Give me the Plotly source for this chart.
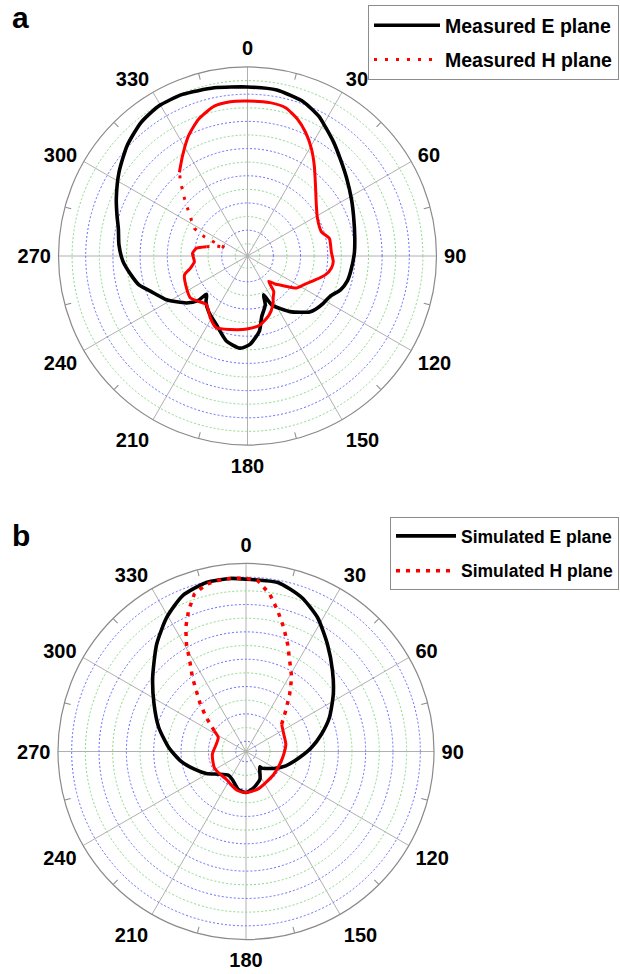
import plotly.graph_objects as go

# ---------------- data (angles in degrees, clockwise from top; r in ring units) ----------------
angle_ticks = [0, 30, 60, 90, 120, 150, 180, 210, 240, 270, 300, 330]
minor_angle_ticks = [15, 45, 75, 105, 135, 165, 195, 225, 255, 285, 315, 345]
ring_levels = list(range(0, 13))

theta_meas_E = [0, 10, 20, 27, 31, 37, 44, 52, 62, 70, 80, 88, 98, 104, 110, 116, 122, 128, 132, 137,
                142.6, 148, 153.7, 157.5, 160, 166.8, 171, 178.4, 184.6, 194, 204.5, 215, 222, 227, 228,
                232.4, 241.6, 249.9, 255.1, 260.8, 267.4, 275, 282, 287.4, 293.6, 303.1, 312.5, 321.4,
                329.4, 338.1, 348.8, 360]
r_meas_E = [11.53, 11.49, 11.16, 10.64, 10.20, 9.61, 8.95, 8.36, 7.78, 7.41, 7.11, 6.97, 6.78, 6.67, 6.38,
            5.86, 5.67, 5.46, 5.25, 4.76, 4.25, 3.66, 3.12, 2.19, 2.92, 3.68, 4.69, 5.60, 5.90, 5.54, 4.64,
            4.09, 3.66, 3.22, 4.01, 4.76, 5.86, 6.67, 7.36, 7.78, 8.26, 8.59, 8.81, 9.16, 9.63, 10.38,
            11.11, 11.66, 11.92, 11.91, 11.71, 11.53]

theta_meas_H = [0, 8.3, 14.4, 20.1, 25.2, 30.9, 36.5, 43.9, 53.6, 61.8, 71.9, 77.9, 87.1, 93.7, 98.3,
                103.6, 110, 116, 123, 131.7, 135, 140, 143.4, 147.6, 153.4, 160, 169.7, 180.6, 193.2,
                203.5, 211, 220.3, 227.3, 233.6, 242.2, 253.4, 257.9, 264, 272.8, 278.6, 282.7, 288.3,
                289.9, 292, 294, 297.4, 305.2, 312.3, 317.8, 320.9, 327.1, 333.9, 340.3, 347.5, 353.6, 360]
r_meas_H = [10.50, 10.50, 10.36, 9.81, 9.14, 8.27, 7.36, 6.31, 5.39, 4.94, 4.82, 5.26, 5.27, 5.42, 5.33,
            4.99, 4.32, 3.81, 3.42, 2.31, 2.04, 1.53, 2.34, 2.64, 3.22, 3.73, 4.25, 4.47, 4.65, 4.86, 4.41,
            3.78, 4.01, 4.31, 4.17, 3.93, 3.39, 3.03, 3.15, 2.90, 2.20, 1.52, 0.77, 1.57, 2.57, 3.50, 4.30,
            5.36, 6.43, 7.04, 7.89, 8.95, 9.78, 10.39, 10.52, 10.50]

theta_sim_E = [0.3, 10.7, 19.9, 28.1, 37.2, 47, 56.7, 67.8, 77.1, 86.5, 96.4, 109.8, 121.4, 136.4, 138,
               145, 153.3, 167.5, 180, 191.8, 206.6, 216.9, 230.7, 241, 251.1, 261.9, 273, 285.4, 297.2,
               308.4, 320.2, 329.4, 337.8, 346.8, 354.8, 360.3]
r_sim_E = [11.85, 11.83, 11.23, 10.36, 9.10, 7.90, 6.89, 5.84, 4.91, 4.05, 3.19, 2.34, 1.63, 0.93, 0.76,
           1.01, 1.52, 1.95, 2.25, 2.07, 1.52, 1.42, 1.87, 2.57, 3.24, 4.09, 4.91, 5.87, 6.81, 7.96, 9.46,
           10.64, 11.55, 11.95, 11.96, 11.85]

theta_sim_H = [0, 4, 8.6, 12.7, 16.9, 21.2, 25.7, 31.7, 37.3, 44.3, 52.6, 65.4, 79.6, 94.1, 110.6, 129.2,
               147.3, 162.5, 180, 191.4, 202, 215.6, 228.7, 243.2, 265.4, 283.8, 296.8, 303.1, 307.4,
               310.6, 316, 320.7, 324.1, 328.2, 331, 334.1, 337.8, 341.8, 346.7, 352.1, 356.1, 360]
r_sim_H = [11.91, 11.77, 10.89, 9.80, 8.73, 7.67, 6.62, 5.61, 4.52, 3.41, 2.53, 2.29, 2.21, 2.02, 1.89,
           1.88, 1.94, 2.14, 2.25, 2.18, 1.96, 1.74, 1.77, 1.85, 1.72, 1.49, 1.52, 2.02, 2.53, 3.08, 4.06,
           4.99, 5.93, 7.06, 8.23, 9.34, 10.37, 11.36, 11.83, 11.97, 11.96, 11.91]

# dotted (sparsely sampled) angular stretches of the H-plane curves
meas_H_dotted = (282.7, 320.9)
sim_H_dotted = (303.1, 52.6)   # wraps through 0

# ---------------- styling ----------------
W, H = 620, 974
BLUE = "#6a6aff"
GREEN = "#8ad88a"
GRID = "#b0b0b0"
OUTER = "#8a8a8a"
FONT = "Arial, 'Liberation Sans', sans-serif"

fig = go.Figure()


def split_wrap(theta, r, lo, hi):
    """Return (dotted, solid) segments for an angular interval [lo, hi] (may wrap through 0)."""
    n = len(theta)
    i_lo = theta.index(lo)
    i_hi = theta.index(hi)
    if lo < hi:
        dot_idx = list(range(i_lo, i_hi + 1))
        solid_idx = list(range(i_hi, n)) + list(range(1, i_lo + 1))
    else:
        dot_idx = list(range(i_lo, n)) + list(range(1, i_hi + 1))
        solid_idx = list(range(i_hi, i_lo + 1))
    d = ([theta[i] for i in dot_idx], [r[i] for i in dot_idx])
    s = ([theta[i] for i in solid_idx], [r[i] for i in solid_idx])
    return d, s


# empty traces so that the lower (grid) polar subplots get drawn
for sp in ("polar", "polar3"):
    fig.add_trace(go.Scatterpolar(theta=[], r=[], mode="lines", subplot=sp,
                                  showlegend=False, hoverinfo="skip"))

# panel a -----------------------------------------------------------
fig.add_trace(go.Scatterpolar(theta=theta_meas_E, r=r_meas_E, mode="lines", subplot="polar2",
                              line=dict(color="black", width=3.6, shape="spline", smoothing=0.6),
                              name="Measured E plane", legend="legend", legendgroup="a1"))
(dth, dr), (sth, sr) = split_wrap(theta_meas_H, r_meas_H, *meas_H_dotted)
fig.add_trace(go.Scatterpolar(theta=sth, r=sr, mode="lines", subplot="polar2",
                              line=dict(color="red", width=3, shape="spline", smoothing=0.6),
                              showlegend=False, legendgroup="a2"))
fig.add_trace(go.Scatterpolar(theta=dth, r=dr, mode="lines", subplot="polar2",
                              line=dict(color="red", width=3, dash="3px,8px"),
                              name="Measured H plane", legend="legend", legendgroup="a2"))

# panel b -----------------------------------------------------------
fig.add_trace(go.Scatterpolar(theta=theta_sim_E, r=r_sim_E, mode="lines", subplot="polar4",
                              line=dict(color="black", width=3.6, shape="spline", smoothing=0.6),
                              name="Simulated E plane", legend="legend2", legendgroup="b1"))
(dth, dr), (sth, sr) = split_wrap(theta_sim_H, r_sim_H, *sim_H_dotted)
fig.add_trace(go.Scatterpolar(theta=sth, r=sr, mode="lines", subplot="polar4",
                              line=dict(color="red", width=3, shape="spline", smoothing=0.6),
                              showlegend=False, legendgroup="b2"))
fig.add_trace(go.Scatterpolar(theta=dth, r=dr, mode="lines", subplot="polar4",
                              line=dict(color="red", width=3.5, dash="4px,6px"),
                              name="Simulated H plane", legend="legend2", legendgroup="b2"))


def base_polar(dom_x, dom_y, rrange, rings):
    return dict(
        domain=dict(x=dom_x, y=dom_y), bgcolor="white",
        radialaxis=dict(range=rrange, tickvals=rings, showticklabels=False, ticks="",
                        showline=False, gridcolor=BLUE, gridwidth=1, griddash="2px,2px"),
        angularaxis=dict(rotation=90, direction="clockwise", tickmode="array",
                         tickvals=angle_ticks, ticktext=[str(a) for a in angle_ticks],
                         ticks="outside", ticklen=3, tickcolor="rgba(0,0,0,0)",
                         tickfont=dict(family=FONT, size=20, color="black", weight="bold"),
                         showline=True, linecolor=OUTER, linewidth=1.2,
                         gridcolor=GRID, gridwidth=1),
    )


def top_polar(dom_x, dom_y, rrange, rings):
    return dict(
        domain=dict(x=dom_x, y=dom_y), bgcolor="rgba(0,0,0,0)",
        radialaxis=dict(range=rrange, tickvals=rings, showticklabels=False, ticks="",
                        showline=False, gridcolor=GREEN, gridwidth=1, griddash="2px,2px"),
        angularaxis=dict(rotation=90, direction="clockwise", tickmode="array",
                         tickvals=minor_angle_ticks, showticklabels=False,
                         ticks="inside", ticklen=6, tickcolor=OUTER, tickwidth=1,
                         showline=False, showgrid=False),
    )


a_x = [58.5 / W, 436.5 / W]
a_y = [1 - 445 / H, 1 - 67 / H]
b_x = [58 / W, 434 / W]
b_y = [1 - 939.5 / H, 1 - 563.5 / H]
a_range = [-0.9, 13.0]
b_range = [-0.75, 13.0]
a_blue = [k for k in ring_levels if k % 2 == 1]
a_green = [k for k in ring_levels if k % 2 == 0]
b_blue = [k for k in ring_levels if k % 2 == 0]
b_green = [k for k in ring_levels if k % 2 == 1]

fig.update_layout(
    width=W, height=H, margin=dict(l=0, r=0, t=0, b=0, autoexpand=False),
    paper_bgcolor="white", plot_bgcolor="white",
    polar=base_polar(a_x, a_y, a_range, a_blue),
    polar2=top_polar(a_x, a_y, a_range, a_green),
    polar3=base_polar(b_x, b_y, b_range, b_blue),
    polar4=top_polar(b_x, b_y, b_range, b_green),
    legend=dict(xref="container", yref="container", x=368 / W, y=1 - 5 / H,
                xanchor="left", yanchor="top", bgcolor="white", bordercolor="#8c8c8c",
                borderwidth=1, tracegroupgap=6, itemwidth=66,
                font=dict(family=FONT, size=19.5, color="black", weight="bold")),
    legend2=dict(xref="container", yref="container", x=390 / W, y=1 - 517 / H,
                 xanchor="left", yanchor="top", bgcolor="white", bordercolor="#8c8c8c",
                 borderwidth=1, tracegroupgap=9, itemwidth=60,
                 font=dict(family=FONT, size=17.5, color="black", weight="bold")),
    annotations=[
        dict(text="a", x=20 / W, y=1 - 17 / H, xref="paper", yref="paper", showarrow=False,
             xanchor="center", yanchor="middle",
             font=dict(family=FONT, size=30, color="black", weight="bold")),
        dict(text="b", x=21 / W, y=1 - 535 / H, xref="paper", yref="paper", showarrow=False,
             xanchor="center", yanchor="middle",
             font=dict(family=FONT, size=30, color="black", weight="bold")),
    ],
)

fig.write_html("out.html")
